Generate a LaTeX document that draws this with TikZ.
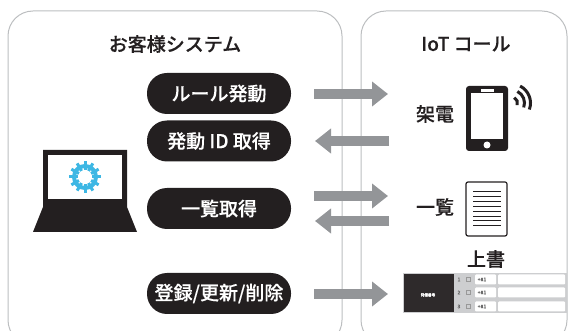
\documentclass[tikz,border=0pt]{standalone}
\usepackage{fontspec}
\setmainfont{Noto Sans CJK JP Medium}[FakeBold=0.35]
\usetikzlibrary{arrows.meta,calc}
\definecolor{inkblack}{HTML}{231F20}
\definecolor{flowgrey}{HTML}{939598}
\definecolor{panelgrey}{HTML}{BCBEC0}
\definecolor{gearblue}{HTML}{3DB7E4}
\tikzset{
  panel/.style={draw=panelgrey, line width=1pt, rounded corners=25pt},
  pill/.style={fill=inkblack, text=white, rounded corners=20pt, minimum width=144pt, minimum height=41pt, inner sep=0pt, font=\fontsize{19}{19}\selectfont},
  heading/.style={text=inkblack, inner sep=0pt, font=\fontsize{19}{19}\selectfont},
  flow/.style={draw=flowgrey, line width=10pt, -{Triangle[length=16pt,width=24pt]}},
  rowbox/.style={fill=white, draw=none, rounded corners=1pt},
  tiny/.style={inner sep=0pt, text=black!60, font=\fontsize{5}{5}\selectfont}
}
\begin{document}
\begin{tikzpicture}[x=1pt, y=-1pt]
\useasboundingbox (0,0) rectangle (568,331);
\clip (0,0) rectangle (568,331);
% panels
\draw [panel] (8,11) rectangle (342,345);
\draw [panel] (361,11) rectangle (567,345);
\node [heading] (customer) at (175,44) {お客様システム};
\node [heading] (iotcall) at (466,44) {IoT コール};
% laptop
\fill [inkblack] (43,150) -- (127,150) -- (127,207) -- (137,232) -- (33,232) -- (43,207) -- cycle;
\fill [white] (48,155) rectangle (122,199);
\foreach \a in {0,30,...,330}
  \fill [gearblue, rotate around={\a:(85,177)}] (83.5,161.3) rectangle (86.5,170);
\draw [gearblue, line width=4pt] (85,177) circle (11pt);
% requests
\node [pill] (ruleon) at (219,93.5) {ルール発動};
\node [pill] (getid) at (219,141) {発動 ID 取得};
\node [pill] (getlist) at (219,208.5) {一覧取得};
\node [pill] (edit) at (219,293.5) {登録/更新/削除};
% phone
\node [heading] (call) at (435,114) {架電};
\fill [inkblack, rounded corners=3pt] (466,86) rectangle (508,151);
\fill [white] (471,93) rectangle (503,139);
\fill [white] (481,89) rectangle (494,92);
\fill [white] (487,145) circle (3.5pt);
\foreach \r in {6,13,19}
  \draw [inkblack, line width=3pt] ($(511.5,103)+(63:\r pt)$) arc (63:-20:\r pt);
% list sheet
\node [heading] (list) at (435,207) {一覧};
\draw [inkblack, line width=1.2pt, rounded corners=2pt] (466,182) rectangle (507,236);
\foreach \y in {191,196,201,206,211,216,220.5,225}
  \draw [inkblack, line width=0.9pt] (473,\y) -- (501,\y);
% overwrite screen
\node [heading] (overwrite) at (486,259) {上書};
\fill [panelgrey!75] (403,273) rectangle (567,313);
\fill [inkblack!95] (404,274) rectangle (454,312);
\node [inner sep=0pt, text=white, font=\fontsize{3.6}{3.6}\selectfont] (phoneno) at (428,295) {発信番号};
\foreach \n/\y in {1/279.5,2/292.5,3/306.5} {
  \node [tiny] (num\n) at (459,\y) {\n};
  \draw [black!40, line width=0.4pt] (466,\y-2) rectangle (470,\y+2);
  \fill [rowbox] (475,\y-5) rectangle (496,\y+5);
  \fill [rowbox] (498,\y-5) rectangle (565,\y+5);
  \node [tiny] (code\n) at (482,\y) {+81};
}
% arrows
\coordinate (a1) at (314,94);
\coordinate (b1) at (388,94);
\coordinate (a2) at (389,141);
\coordinate (b2) at (315,141);
\coordinate (a3) at (314,196);
\coordinate (b3) at (388,196);
\coordinate (a4) at (389,221);
\coordinate (b4) at (315,221);
\coordinate (a5) at (314,294);
\coordinate (b5) at (388,294);
\foreach \i in {1,...,5}
  \draw [flow] (a\i) -- (b\i);
\end{tikzpicture}
\end{document}
